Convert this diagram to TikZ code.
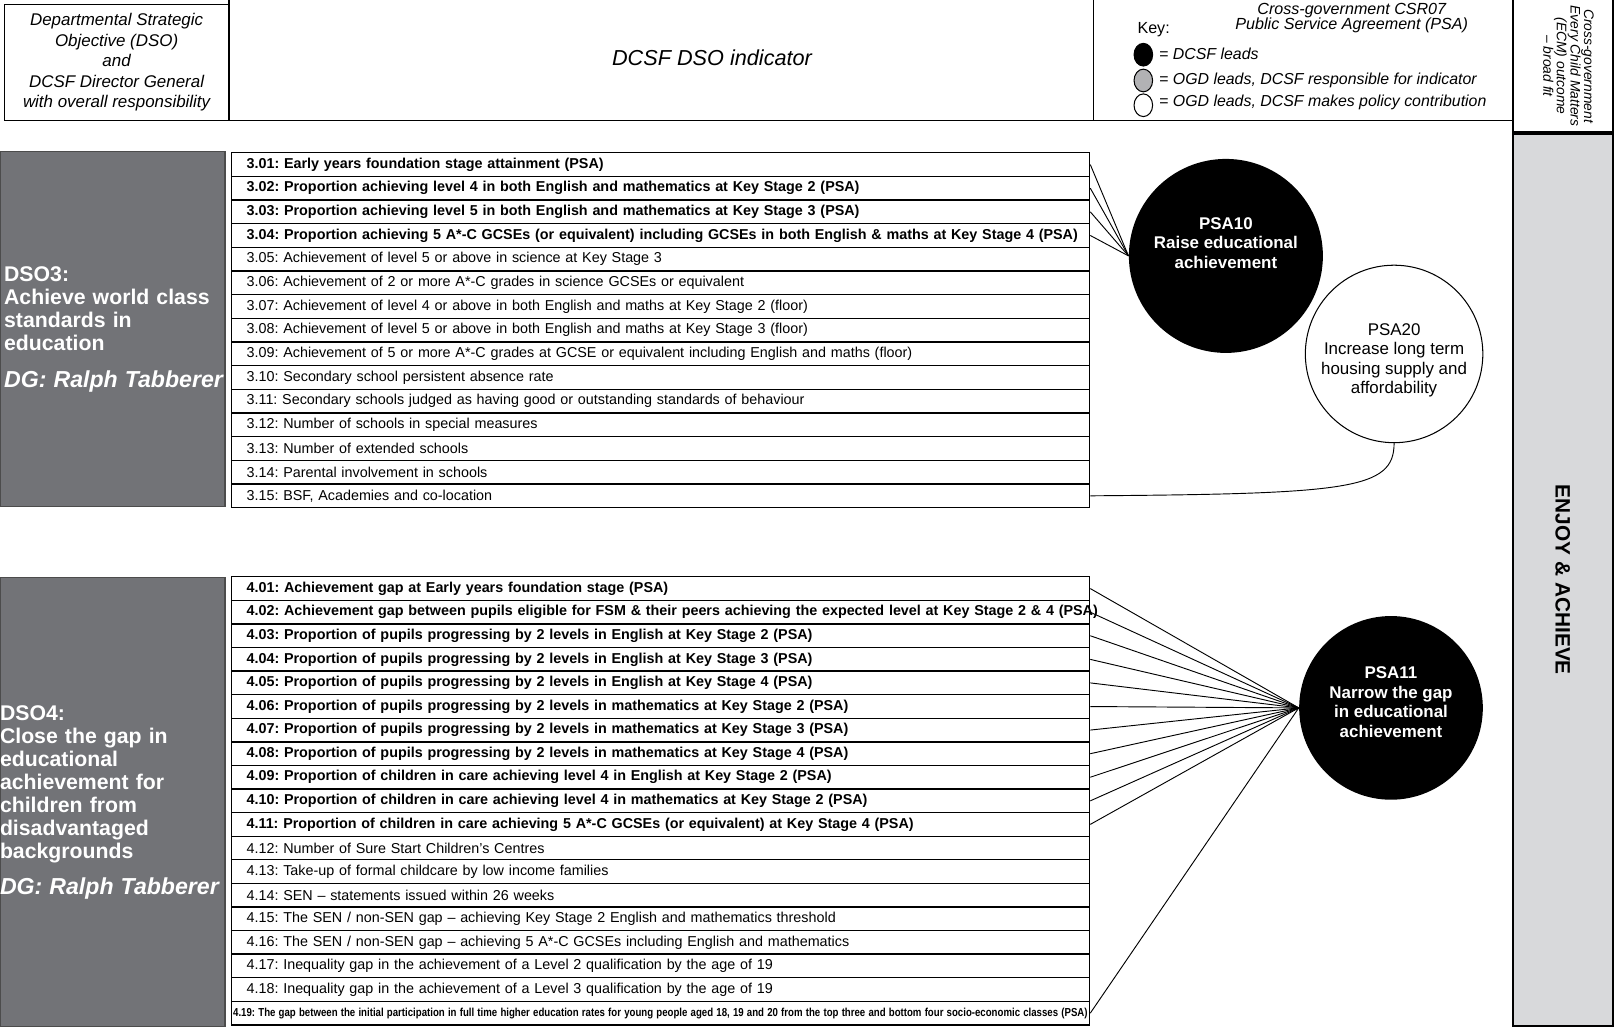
\documentclass[tikz,border=0pt]{standalone}
\usepackage{fontspec}
\setmainfont{Liberation Sans}
\usepackage{graphicx}
\usetikzlibrary{shapes.geometric}
\frenchspacing

\definecolor{dsogrey}{RGB}{114,115,119}
\definecolor{ecmgrey}{RGB}{216,217,219}
\definecolor{keygrey}{RGB}{178,178,180}

\begin{document}
\begin{tikzpicture}[x=0.5pt,y=-0.5pt]
\tikzset{row/.style = {shape=rectangle,draw,line width=0.6pt,text width=401pt,inner xsep=7.5pt,inner ysep=0pt,minimum height=11.45pt,align=left,font=\fontsize{6.95}{7.5}\selectfont}}
\tikzset{psarow/.style = {row,font=\fontsize{6.95}{7.5}\selectfont\bfseries}}
\tikzset{dso/.style = {shape=rectangle,fill=dsogrey,draw=black!70,line width=0.6pt,minimum width=109pt,text width=105pt,inner xsep=2pt,align=left,text=white,font=\fontsize{10.3}{11.2}\selectfont\bfseries}}
\tikzset{lead/.style = {shape=circle,fill=black,inner sep=0pt,text=white,align=center,font=\fontsize{8.2}{9.6}\selectfont\bfseries}}
\tikzset{contrib/.style = {shape=circle,draw,line width=0.5pt,fill=white,inner sep=0pt,align=center,font=\fontsize{8.2}{9.3}\selectfont}}
\tikzset{keydot/.style = {shape=ellipse,draw,line width=0.5pt,minimum width=9pt,minimum height=11pt,inner sep=0pt}}
\tikzset{keytext/.style = {anchor=west,inner sep=0pt,font=\fontsize{7.7}{9}\selectfont\itshape}}
\tikzset{ecm/.style = {shape=rectangle,draw,line width=1pt,minimum height=48.5pt,inner sep=0pt,align=center}}
\tikzset{edge/.style = {-,line width=0.45pt}}
\useasboundingbox (0,0) rectangle (1568,995);
% header
\node[shape=rectangle,draw,line width=0.6pt,minimum width=109pt,minimum height=56.5pt,align=center,font=\fontsize{8.2}{9.9}\selectfont\itshape] (dsohead) at (113,60.5) {Departmental Strategic\\Objective (DSO)\\and\\DCSF Director General\\with overall responsibility};
\draw[line width=0.6pt] (222,0) -- (222,117);
\draw[line width=0.6pt] (1060,0) -- (1060,117);
\draw[line width=0.6pt] (4,117) -- (1465,117);
\node[font=\fontsize{10.5}{12}\selectfont\itshape] (indicator) at (690,56) {DCSF DSO indicator};
\node[align=center,inner sep=0pt,font=\fontsize{7.8}{7.5}\selectfont\itshape] (csr) at (1310,17.5) {Cross-government CSR07\\Public Service Agreement (PSA)};
\node[inner sep=0pt,font=\fontsize{7.8}{9}\selectfont] (key) at (1118,29) {Key:};
\node[keydot,fill=black] (k1) at (1108,53) {};
\node[keydot,fill=keygrey] (k2) at (1108,78) {};
\node[keydot,fill=white] (k3) at (1108,102) {};
\node[keytext] (t1) at (1123,52) {= DCSF leads};
\node[keytext] (t2) at (1123,78) {= OGD leads, DCSF responsible for indicator};
\node[keytext] (t3) at (1123,99) {= OGD leads, DCSF makes policy contribution};
\node[ecm,fill=white,rotate=-90,minimum width=66pt] (ecmhead) at (1514.5,62) {};
\node[rotate=-90,align=center,inner sep=0pt,font=\fontsize{6.7}{6.6}\selectfont\itshape] (ecmtext) at (1520,64) {Cross-government\\Every Child Matters\\(ECM) outcome\\-- broad fit};
\node[ecm,fill=ecmgrey,rotate=-90,minimum width=432pt,font=\fontsize{10.1}{11}\selectfont\bfseries] (enjoy) at (1514.5,562) {ENJOY \& ACHIEVE};
% DSO3
\node[dso,minimum height=172pt] (dso3) at (109,319) {DSO3:\\Achieve world class\\standards in\\education\\[6.5pt]\mbox{\fontsize{11.2}{12}\selectfont\itshape DG: Ralph Tabberer}};
\node[psarow] (r301) at (640,159.5) {3.01: Early years foundation stage attainment (PSA)};
\node[psarow] (r302) at (640,182.4) {3.02: Proportion achieving level 4 in both English and mathematics at Key Stage 2 (PSA)};
\node[psarow] (r303) at (640,205.3) {3.03: Proportion achieving level 5 in both English and mathematics at Key Stage 3 (PSA)};
\node[psarow] (r304) at (640,228.2) {\mbox{3.04: Proportion achieving 5 A*-C GCSEs (or equivalent) including GCSEs in both English \& maths at Key Stage 4 (PSA)}};
\node[row] (r305) at (640,251.2) {3.05: Achievement of level 5 or above in science at Key Stage 3};
\node[row] (r306) at (640,274.1) {3.06: Achievement of 2 or more A*-C grades in science GCSEs or equivalent};
\node[row] (r307) at (640,297.0) {3.07: Achievement of level 4 or above in both English and maths at Key Stage 2 (floor)};
\node[row] (r308) at (640,320.0) {3.08: Achievement of level 5 or above in both English and maths at Key Stage 3 (floor)};
\node[row] (r309) at (640,342.9) {3.09: Achievement of 5 or more A*-C grades at GCSE or equivalent including English and maths (floor)};
\node[row] (r310) at (640,365.8) {3.10: Secondary school persistent absence rate};
\node[row] (r311) at (640,388.7) {3.11: Secondary schools judged as having good or outstanding standards of behaviour};
\node[row] (r312) at (640,411.7) {3.12: Number of schools in special measures};
\node[row] (r313) at (640,434.6) {3.13: Number of extended schools};
\node[row] (r314) at (640,457.5) {3.14: Parental involvement in schools};
\node[row] (r315) at (640,480.5) {3.15: BSF, Academies and co-location};
\node[lead,minimum size=94pt] (psa10) at (1188,248) {PSA10\\Raise educational\\achievement\\[3pt]\mbox{}};
\node[contrib,minimum size=86pt] (psa20) at (1351,343) {\mbox{}\\[2.7pt]PSA20\\Increase long term\\housing supply and\\affordability};
% DSO4
\node[dso,minimum height=217.5pt,text width=109pt,inner xsep=0pt] (dso4) at (109,777.5) {DSO4:\\Close the gap in\\educational\\achievement for\\children from\\disadvantaged\\backgrounds\\[6pt]\mbox{\fontsize{11.2}{12}\selectfont\itshape DG: Ralph Tabberer}};
\node[psarow] (r401) at (640,570.4) {4.01: Achievement gap at Early years foundation stage (PSA)};
\node[psarow] (r402) at (640,593.3) {\mbox{4.02: Achievement gap between pupils eligible for FSM \& their peers achieving the expected level at Key Stage 2 \& 4 (PSA)}};
\node[psarow] (r403) at (640,616.1) {4.03: Proportion of pupils progressing by 2 levels in English at Key Stage 2 (PSA)};
\node[psarow] (r404) at (640,639.0) {4.04: Proportion of pupils progressing by 2 levels in English at Key Stage 3 (PSA)};
\node[psarow] (r405) at (640,661.8) {4.05: Proportion of pupils progressing by 2 levels in English at Key Stage 4 (PSA)};
\node[psarow] (r406) at (640,684.7) {4.06: Proportion of pupils progressing by 2 levels in mathematics at Key Stage 2 (PSA)};
\node[psarow] (r407) at (640,707.5) {4.07: Proportion of pupils progressing by 2 levels in mathematics at Key Stage 3 (PSA)};
\node[psarow] (r408) at (640,730.4) {4.08: Proportion of pupils progressing by 2 levels in mathematics at Key Stage 4 (PSA)};
\node[psarow] (r409) at (640,753.2) {4.09: Proportion of children in care achieving level 4 in English at Key Stage 2 (PSA)};
\node[psarow] (r410) at (640,776.1) {4.10: Proportion of children in care achieving level 4 in mathematics at Key Stage 2 (PSA)};
\node[psarow] (r411) at (640,798.9) {4.11: Proportion of children in care achieving 5 A*-C GCSEs (or equivalent) at Key Stage 4 (PSA)};
\node[row] (r412) at (640,821.8) {4.12: Number of Sure Start Children’s Centres};
\node[row] (r413) at (640,844.6) {4.13: Take-up of formal childcare by low income families};
\node[row] (r414) at (640,867.5) {4.14: SEN – statements issued within 26 weeks};
\node[row] (r415) at (640,890.3) {4.15: The SEN / non-SEN gap – achieving Key Stage 2 English and mathematics threshold};
\node[row] (r416) at (640,913.2) {4.16: The SEN / non-SEN gap – achieving 5 A*-C GCSEs including English and mathematics};
\node[row] (r417) at (640,936.0) {4.17: Inequality gap in the achievement of a Level 2 qualification by the age of 19};
\node[row] (r418) at (640,958.9) {4.18: Inequality gap in the achievement of a Level 3 qualification by the age of 19};
\node[psarow,text width=414pt,inner xsep=1pt,font=\fontsize{5.6}{6}\selectfont\bfseries] (r419) at (640,981.8) {\resizebox{414pt}{\height}{4.19: The gap between the initial participation in full time higher education rates for young people aged 18, 19 and 20 from the top three and bottom four socio-economic classes (PSA)}};
\node[lead,minimum size=89pt] (psa11) at (1348,686) {PSA11\\Narrow the gap\\in educational\\achievement\\[-4pt]\mbox{}};
% edges
\draw[edge] (r301.east) to (psa10.west);
\draw[edge] (r302.east) to (psa10.west);
\draw[edge] (r303.east) to (psa10.west);
\draw[edge] (r304.east) to (psa10.west);
\draw[edge] (r315.east) .. controls +(250,-2) and +(0,45) .. (psa20.south);
\draw[edge] (r401.east) to (psa11.west);
\draw[edge] (r402.east) to (psa11.west);
\draw[edge] (r403.east) to (psa11.west);
\draw[edge] (r404.east) to (psa11.west);
\draw[edge] (r405.east) to (psa11.west);
\draw[edge] (r406.east) to (psa11.west);
\draw[edge] (r407.east) to (psa11.west);
\draw[edge] (r408.east) to (psa11.west);
\draw[edge] (r409.east) to (psa11.west);
\draw[edge] (r410.east) to (psa11.west);
\draw[edge] (r411.east) to (psa11.west);
\draw[edge] (r419.east) to (psa11.west);
\end{tikzpicture}
\end{document}
